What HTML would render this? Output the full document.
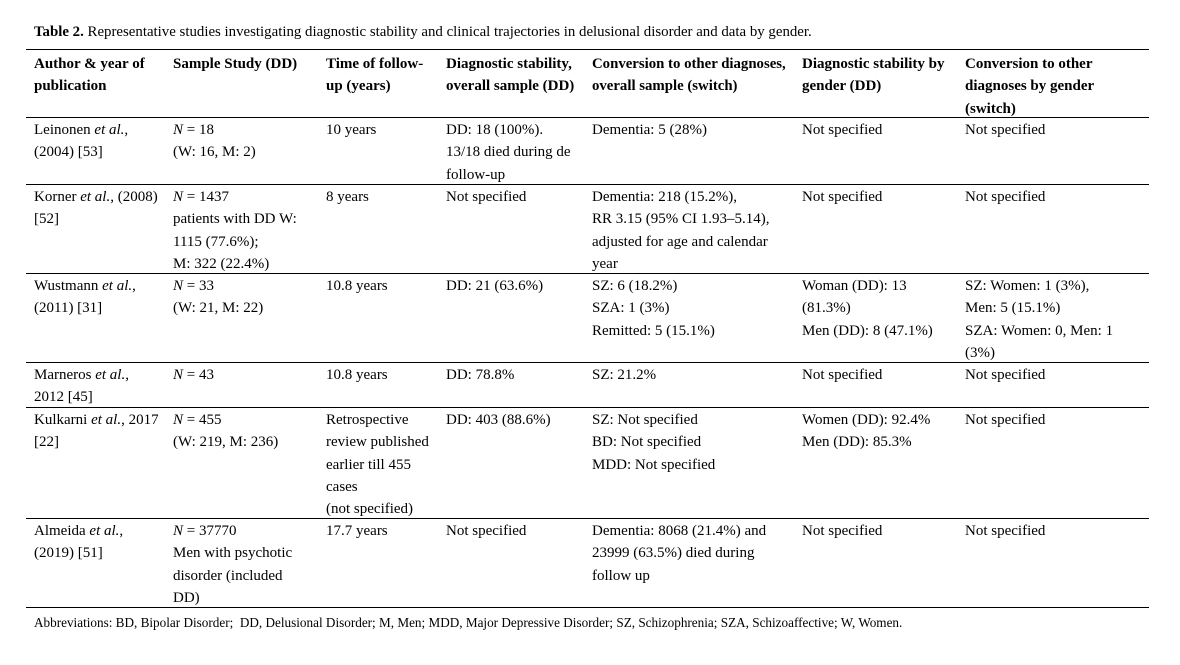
<!DOCTYPE html>
<html><head><meta charset="utf-8"><style>
html,body{margin:0;padding:0;background:#fff;}
body{width:1180px;height:665px;position:relative;overflow:hidden;font-family:"Liberation Serif","Times New Roman",serif;color:#000;}
.c{position:absolute;font-size:15px;line-height:22.3px;white-space:nowrap;}
.h{font-weight:bold;}
.ln{position:absolute;left:26px;width:1123px;height:1px;background:#000;}
i{font-style:italic;}
</style></head><body>
<div class="c" style="left:34px;top:21px;line-height:22px;font-size:14.86px;"><b>Table 2.</b> Representative studies investigating diagnostic stability and clinical trajectories in delusional disorder and data by gender.</div>

<div class="ln" style="top:49px"></div>
<div class="ln" style="top:117px"></div>
<div class="ln" style="top:184px"></div>
<div class="ln" style="top:273px"></div>
<div class="ln" style="top:362px"></div>
<div class="ln" style="top:407px"></div>
<div class="ln" style="top:518px"></div>
<div class="ln" style="top:607px"></div>

<!-- header -->
<div class="c h" style="left:34px;top:53px">Author &amp; year of<br>publication</div>
<div class="c h" style="left:173px;top:53px">Sample Study (DD)</div>
<div class="c h" style="left:326px;top:53px">Time of follow-<br>up (years)</div>
<div class="c h" style="left:446px;top:53px">Diagnostic stability,<br>overall sample (DD)</div>
<div class="c h" style="left:592px;top:53px;font-size:14.8px">Conversion to other diagnoses,<br>overall sample (switch)</div>
<div class="c h" style="left:802px;top:53px">Diagnostic stability by<br>gender (DD)</div>
<div class="c h" style="left:965px;top:53px">Conversion to other<br>diagnoses by gender<br>(switch)</div>

<!-- row 1 -->
<div class="c" style="left:34px;top:119px">Leinonen <i>et al.</i>,<br>(2004) [53]</div>
<div class="c" style="left:173px;top:119px"><i>N</i> = 18<br>(W: 16, M: 2)</div>
<div class="c" style="left:326px;top:119px">10 years</div>
<div class="c" style="left:446px;top:119px">DD: 18 (100%).<br>13/18 died during de<br>follow-up</div>
<div class="c" style="left:592px;top:119px">Dementia: 5 (28%)</div>
<div class="c" style="left:802px;top:119px">Not specified</div>
<div class="c" style="left:965px;top:119px">Not specified</div>

<!-- row 2 -->
<div class="c" style="left:34px;top:186px">Korner <i>et al.</i>, (2008)<br>[52]</div>
<div class="c" style="left:173px;top:186px"><i>N</i> = 1437<br>patients with DD W:<br>1115 (77.6%);<br>M: 322 (22.4%)</div>
<div class="c" style="left:326px;top:186px">8 years</div>
<div class="c" style="left:446px;top:186px">Not specified</div>
<div class="c" style="left:592px;top:186px">Dementia: 218 (15.2%),<br>RR 3.15 (95% CI 1.93–5.14),<br>adjusted for age and calendar<br>year</div>
<div class="c" style="left:802px;top:186px">Not specified</div>
<div class="c" style="left:965px;top:186px">Not specified</div>

<!-- row 3 -->
<div class="c" style="left:34px;top:275px">Wustmann <i>et al.</i>,<br>(2011) [31]</div>
<div class="c" style="left:173px;top:275px"><i>N</i> = 33<br>(W: 21, M: 22)</div>
<div class="c" style="left:326px;top:275px">10.8 years</div>
<div class="c" style="left:446px;top:275px">DD: 21 (63.6%)</div>
<div class="c" style="left:592px;top:275px">SZ: 6 (18.2%)<br>SZA: 1 (3%)<br>Remitted: 5 (15.1%)</div>
<div class="c" style="left:802px;top:275px">Woman (DD): 13<br>(81.3%)<br>Men (DD): 8 (47.1%)</div>
<div class="c" style="left:965px;top:275px">SZ: Women: 1 (3%),<br>Men: 5 (15.1%)<br>SZA: Women: 0, Men: 1<br>(3%)</div>

<!-- row 4 -->
<div class="c" style="left:34px;top:364px">Marneros <i>et al.</i>,<br>2012 [45]</div>
<div class="c" style="left:173px;top:364px"><i>N</i> = 43</div>
<div class="c" style="left:326px;top:364px">10.8 years</div>
<div class="c" style="left:446px;top:364px">DD: 78.8%</div>
<div class="c" style="left:592px;top:364px">SZ: 21.2%</div>
<div class="c" style="left:802px;top:364px">Not specified</div>
<div class="c" style="left:965px;top:364px">Not specified</div>

<!-- row 5 -->
<div class="c" style="left:34px;top:409px">Kulkarni <i>et al.</i>, 2017<br>[22]</div>
<div class="c" style="left:173px;top:409px"><i>N</i> = 455<br>(W: 219, M: 236)</div>
<div class="c" style="left:326px;top:409px">Retrospective<br>review published<br>earlier till 455<br>cases<br>(not specified)</div>
<div class="c" style="left:446px;top:409px">DD: 403 (88.6%)</div>
<div class="c" style="left:592px;top:409px">SZ: Not specified<br>BD: Not specified<br>MDD: Not specified</div>
<div class="c" style="left:802px;top:409px">Women (DD): 92.4%<br>Men (DD): 85.3%</div>
<div class="c" style="left:965px;top:409px">Not specified</div>

<!-- row 6 -->
<div class="c" style="left:34px;top:520px">Almeida <i>et al.</i>,<br>(2019) [51]</div>
<div class="c" style="left:173px;top:520px"><i>N</i> = 37770<br>Men with psychotic<br>disorder (included<br>DD)</div>
<div class="c" style="left:326px;top:520px">17.7 years</div>
<div class="c" style="left:446px;top:520px">Not specified</div>
<div class="c" style="left:592px;top:520px">Dementia: 8068 (21.4%) and<br>23999 (63.5%) died during<br>follow up</div>
<div class="c" style="left:802px;top:520px">Not specified</div>
<div class="c" style="left:965px;top:520px">Not specified</div>

<div class="c" style="left:34px;top:615px;font-size:13.2px;line-height:16px;">Abbreviations: BD, Bipolar Disorder;&nbsp; DD, Delusional Disorder; M, Men; MDD, Major Depressive Disorder; SZ, Schizophrenia; SZA, Schizoaffective; W, Women.</div>
</body></html>
